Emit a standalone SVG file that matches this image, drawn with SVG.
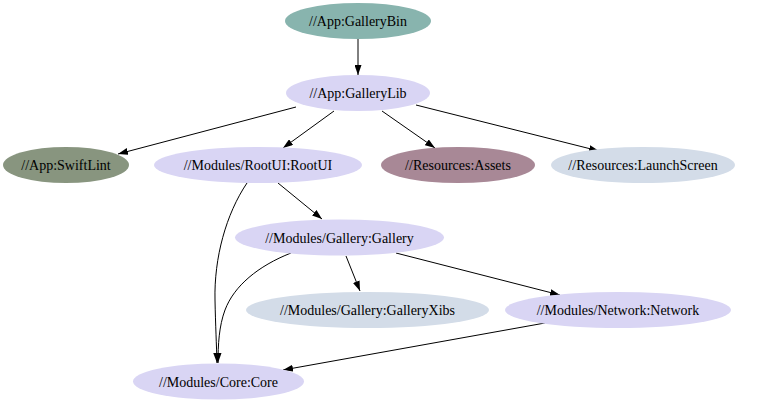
<svg xmlns="http://www.w3.org/2000/svg" width="766" height="404" viewBox="0 0 766 404">
<style>
text{font-family:"Liberation Serif","Times New Roman",serif;font-size:14px;text-anchor:middle;fill:#000}
.e{stroke:#000;stroke-width:1;fill:none}
.lav{fill:#d9d5f4}
.blu{fill:#d3dce8}
</style>
<defs>
<marker id="ah" markerUnits="userSpaceOnUse" markerWidth="10" markerHeight="7" refX="10" refY="3.5" orient="auto">
<path d="M0,0 L10,3.5 L0,7 z" fill="#000"/>
</marker>
</defs>
<rect width="766" height="404" fill="#fff"/>
<g id="connectors">
<path class="e" marker-end="url(#ah)" d="M358,39 L358,75"/>
<path class="e" marker-end="url(#ah)" d="M296,107 L118,154"/>
<path class="e" marker-end="url(#ah)" d="M334,111 L283,148"/>
<path class="e" marker-end="url(#ah)" d="M382,111 L435,148"/>
<path class="e" marker-end="url(#ah)" d="M416,105 L599,151"/>
<path class="e" marker-end="url(#ah)" d="M278,183 L322,219"/>
<path class="e" marker-end="url(#ah)" d="M247,183 C226,214 214,258 215,300 C215.5,325 216.5,345 217,363"/>
<path class="e" marker-end="url(#ah)" d="M291,253 C258,266 234,286 225,310 C219,326 218,345 218,363"/>
<path class="e" marker-end="url(#ah)" d="M346,256 L360,291"/>
<path class="e" marker-end="url(#ah)" d="M396,253 L560,295"/>
<path class="e" marker-end="url(#ah)" d="M545,323 L283,370"/>
</g>
<g id="GalleryBin"><ellipse cx="358" cy="21" rx="73" ry="18" fill="#88b4ae"/><text x="358" y="26">//App:GalleryBin</text></g>
<g id="GalleryLib"><ellipse class="lav" cx="358" cy="93" rx="72" ry="18"/><text x="358" y="98">//App:GalleryLib</text></g>
<g id="SwiftLint"><ellipse cx="66" cy="165" rx="63" ry="18" fill="#88957f"/><text x="66" y="170">//App:SwiftLint</text></g>
<g id="RootUI"><ellipse class="lav" cx="258" cy="165" rx="104" ry="18"/><text x="258" y="170">//Modules/RootUI:RootUI</text></g>
<g id="Assets"><ellipse cx="458" cy="165" rx="77" ry="18" fill="#a88896"/><text x="458" y="170">//Resources:Assets</text></g>
<g id="LaunchScreen"><ellipse class="blu" cx="643" cy="165" rx="92" ry="18"/><text x="643" y="170">//Resources:LaunchScreen</text></g>
<g id="Gallery"><ellipse class="lav" cx="339.5" cy="237.5" rx="104.5" ry="18"/><text x="339.5" y="242.5">//Modules/Gallery:Gallery</text></g>
<g id="GalleryXibs"><ellipse class="blu" cx="367.5" cy="310" rx="121.5" ry="18"/><text x="367.5" y="315">//Modules/Gallery:GalleryXibs</text></g>
<g id="Network"><ellipse class="lav" cx="618" cy="310" rx="113" ry="18"/><text x="618" y="315">//Modules/Network:Network</text></g>
<g id="Core"><ellipse class="lav" cx="218.5" cy="381.5" rx="85.5" ry="18"/><text x="218.5" y="386.5">//Modules/Core:Core</text></g>
</svg>
